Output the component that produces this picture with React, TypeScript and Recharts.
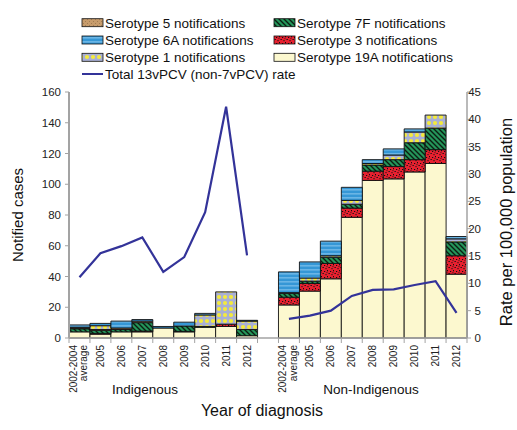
import React from "react";
import { ComposedChart, Bar, Line, XAxis, YAxis } from "recharts";

const categories = ["2002-2004 average", "2005", "2006", "2007", "2008", "2009", "2010", "2011", "2012"];
const groups = ["Indigenous", "Non-Indigenous"];

// notified cases, Indigenous
const ind19A = [4, 2.5, 4, 4, 6.5, 4, 7, 7.5, 1.5];
const ind3 = [0, 0.5, 0, 0.5, 0, 0.3, 0, 1.5, 0];
const ind7F = [2, 2, 1.5, 5.5, 0, 3.5, 0.5, 0, 4];
const ind5 = [0.5, 0.5, 1, 1, 0, 0, 0, 0, 0];
const ind1 = [0.5, 2.5, 0, 0, 0, 0, 7.5, 21, 5.5];
const ind6A = [1.5, 1.5, 4.5, 1, 1, 2.5, 1, 0, 0.5];
const indRate = [11.1, 15.5, 16.8, 18.4, 12.1, 14.8, 23.0, 42.3, 15.1];

// notified cases, non-Indigenous
const non19A = [21.5, 30.5, 38.5, 78.5, 102.5, 103.5, 108, 113.5, 41.5];
const non3 = [5, 5, 10, 6, 6, 8, 8, 9, 12];
const non7F = [2.5, 1.5, 4, 2.5, 4, 4.5, 11, 14, 9];
const non5 = [0, 0, 0, 0, 0, 0, 0, 0, 0];
const non1 = [0.5, 2, 1, 2.5, 1, 3, 7, 8.5, 2];
const non6A = [13.5, 10.5, 9.5, 8.5, 2.5, 4, 2, 0, 1.5];
const nonRate = [3.5, 4.1, 5.0, 7.7, 8.8, 8.9, 9.7, 10.4, 4.6];

const leftTicks = [0, 20, 40, 60, 80, 100, 120, 140, 160];
const rightTicks = [0, 5, 10, 15, 20, 25, 30, 35, 40, 45];

const FONT = "'Liberation Sans', Arial, sans-serif";
const AXIS = "#a3a3a3";
const LINE = "#333399";

// stack order, bottom to top
const serotypes = [
  { key: "s19A", name: "Serotype 19A notifications", fill: "#fcf8cf" },
  { key: "s3", name: "Serotype 3 notifications", fill: "url(#pat3)" },
  { key: "s7F", name: "Serotype 7F notifications", fill: "url(#pat7F)" },
  { key: "s5", name: "Serotype 5 notifications", fill: "url(#pat5)" },
  { key: "s1", name: "Serotype 1 notifications", fill: "url(#pat1)" },
  { key: "s6A", name: "Serotype 6A notifications", fill: "url(#pat6A)" },
];

const groupRows = (g: number, v: number[][], rate: number[]) =>
  categories.map((c, i) => ({
    key: `${g}-${i}`,
    label: c,
    s19A: v[0][i],
    s3: v[1][i],
    s7F: v[2][i],
    s5: v[3][i],
    s1: v[4][i],
    s6A: v[5][i],
    rate: rate[i],
  }));

const rows = [
  ...groupRows(0, [ind19A, ind3, ind7F, ind5, ind1, ind6A], indRate),
  { key: "gap", label: "", rate: null },
  ...groupRows(1, [non19A, non3, non7F, non5, non1, non6A], nonRate),
];

function XTick(props: any) {
  const { x, y, payload, index } = props;
  const row = rows.find((r) => r.key === payload.value);
  const half = payload.offset || 10.5;
  const lines = row && row.label ? row.label.split(" ") : [];
  const top = y + 7;
  return (
    <g>
      <line x1={x - half} x2={x - half} y1={y} y2={y + 5} stroke={AXIS} />
      {index === rows.length - 1 && <line x1={x + half} x2={x + half} y1={y} y2={y + 5} stroke={AXIS} />}
      {lines.map((t: string, i: number) => {
        const tx = lines.length > 1 ? x - 6 + i * 10.5 : x;
        return (
          <text key={i} x={tx} y={top} dy="0.35em" textAnchor="end" fontSize={10} fill="#222"
            fontFamily={FONT} transform={`rotate(-90 ${tx} ${top})`}>
            {t}
          </text>
        );
      })}
    </g>
  );
}

function RightTick(props: any) {
  const { x, y, payload } = props;
  return (
    <text x={x + 8} y={y} dy="0.35em" textAnchor="end" fontSize={11.5} fill="#222" fontFamily={FONT}>
      {payload.value}
    </text>
  );
}

const legendItems = [
  { name: "Serotype 5 notifications", fill: "url(#pat5)", col: 0, row: 0 },
  { name: "Serotype 7F notifications", fill: "url(#pat7F)", col: 1, row: 0 },
  { name: "Serotype 6A notifications", fill: "url(#pat6A)", col: 0, row: 1 },
  { name: "Serotype 3 notifications", fill: "url(#pat3)", col: 1, row: 1 },
  { name: "Serotype 1 notifications", fill: "url(#pat1)", col: 0, row: 2 },
  { name: "Serotype 19A notifications", fill: "#fcf8cf", col: 1, row: 2 },
];

function Overlay() {
  const colX = [82, 274];
  const rowY = [22.7, 40, 57.3, 74];
  return (
    <svg width={517} height={430} style={{ position: "absolute", left: 0, top: 0, pointerEvents: "none" }}
      fontFamily={FONT}>
      <defs>
        <pattern id="pat3" width="6" height="6" patternUnits="userSpaceOnUse">
          <rect width="6" height="6" fill="#e8202f" />
          <rect x="0" y="1" width="1.2" height="1" fill="#111" />
          <rect x="3" y="0" width="1" height="1.3" fill="#111" />
          <rect x="4.5" y="3" width="1.3" height="1" fill="#111" />
          <rect x="1.5" y="4" width="1" height="1.2" fill="#111" />
          <rect x="2.5" y="2.2" width="0.9" height="0.9" fill="#111" />
        </pattern>
        <pattern id="pat7F" width="5" height="5" patternUnits="userSpaceOnUse">
          <rect width="5" height="5" fill="#24955a" />
          <path d="M0,0 L5,5 M-1,4 L1,6 M4,-1 L6,1" stroke="#0b1f12" strokeWidth="1.4" />
        </pattern>
        <pattern id="pat1" width="6" height="6" patternUnits="userSpaceOnUse">
          <rect width="6" height="6" fill="#a9b0d4" />
          <circle cx="3" cy="3" r="2.1" fill="#f4ea3c" />
        </pattern>
        <pattern id="pat6A" width="4" height="4" patternUnits="userSpaceOnUse">
          <rect width="4" height="4" fill="#3597d6" />
          <rect y="1.5" width="4" height="0.8" fill="#9fd4f4" />
        </pattern>
        <pattern id="pat5" width="4" height="4" patternUnits="userSpaceOnUse">
          <rect width="4" height="4" fill="#c79c6c" />
          <rect x="1" y="1" width="0.8" height="0.8" fill="#8a6a44" />
          <rect x="3" y="3" width="0.8" height="0.8" fill="#8a6a44" />
        </pattern>
      </defs>

      {legendItems.map((it) => (
        <g key={it.name}>
          <rect x={colX[it.col]} y={rowY[it.row] - 4} width={21} height={8} fill={it.fill} stroke="#111" strokeWidth={0.8} />
          <text x={colX[it.col] + 23} y={rowY[it.row]} dy="0.36em" fontSize={13.5} fill="#111">{it.name}</text>
        </g>
      ))}
      <line x1={82} x2={103} y1={rowY[3]} y2={rowY[3]} stroke={LINE} strokeWidth={2} />
      <text x={105} y={rowY[3]} dy="0.36em" fontSize={13.5} fill="#111">Total 13vPCV (non-7vPCV) rate</text>

      <text x={18} y={215} dy="0.36em" textAnchor="middle" fontSize={15} fill="#111" transform="rotate(-90 18 215)">
        Notified cases
      </text>
      <text x={506} y={222} dy="0.36em" textAnchor="middle" fontSize={16.5} fill="#111" transform="rotate(-90 506 222)">
        Rate per 100,000 population
      </text>
      <text x={145} y={389} dy="0.36em" textAnchor="middle" fontSize={13.5} fill="#111">{groups[0]}</text>
      <text x={371} y={389} dy="0.36em" textAnchor="middle" fontSize={13.5} fill="#111">{groups[1]}</text>
      <text x={262} y={410} dy="0.36em" textAnchor="middle" fontSize={16} fill="#111">Year of diagnosis</text>
    </svg>
  );
}

export default function App() {
  return (
    <div style={{ position: "absolute", left: 0, top: 0, width: 517, height: 430, background: "#fff" }}>
      <ComposedChart
        width={517}
        height={430}
        data={rows}
        margin={{ top: 92, right: 10, bottom: 32, left: 29 }}
        barCategoryGap={0}
        barGap={0}
      >
        <XAxis
          dataKey="key"
          interval={0}
          height={60}
          tickLine={false}
          tickSize={0}
          tickMargin={0}
          axisLine={{ stroke: AXIS, strokeWidth: 1.5 }}
          tick={<XTick />}
        />
        <YAxis
          yAxisId="left"
          domain={[0, 160]}
          ticks={leftTicks}
          width={40}
          tickSize={4}
          tickMargin={4}
          axisLine={{ stroke: AXIS, strokeWidth: 2 }}
          tickLine={{ stroke: AXIS }}
          tick={{ fontSize: 11.5, fill: "#222", fontFamily: FONT }}
        />
        <YAxis
          yAxisId="right"
          orientation="right"
          domain={[0, 45]}
          ticks={rightTicks}
          width={40}
          tickSize={4}
          tickMargin={2}
          axisLine={{ stroke: AXIS, strokeWidth: 1.5 }}
          tickLine={{ stroke: AXIS }}
          tick={<RightTick />}
        />
        {serotypes.map((s) => (
          <Bar
            key={s.key}
            dataKey={s.key}
            name={s.name}
            yAxisId="left"
            stackId="cases"
            fill={s.fill}
            stroke="#111"
            strokeWidth={0.9}
            isAnimationActive={false}
          />
        ))}
        <Line
          yAxisId="right"
          dataKey="rate"
          name="Total 13vPCV (non-7vPCV) rate"
          stroke={LINE}
          strokeWidth={2.2}
          dot={false}
          activeDot={false}
          connectNulls={false}
          isAnimationActive={false}
        />
      </ComposedChart>
      <Overlay />
    </div>
  );
}
